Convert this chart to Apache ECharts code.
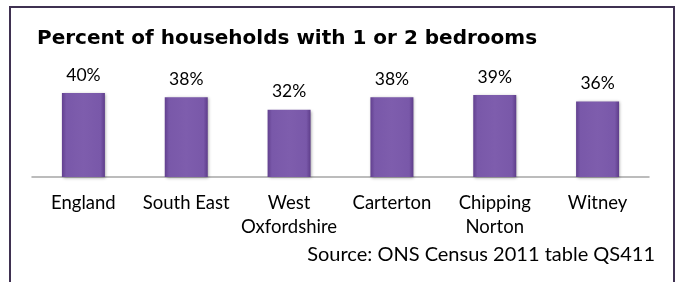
<!DOCTYPE html>
<html><head><meta charset="utf-8">
<script src="https://cdn.jsdelivr.net/npm/echarts@6/dist/echarts.min.js"></script>
<style>html,body{margin:0;padding:0;background:#fff}#c{width:677px;height:282px}</style>
</head><body><div id="c"></div>
<script>
var categories = ['England', 'South East', 'West\nOxfordshire', 'Carterton', 'Chipping\nNorton', 'Witney'];
var values = [40, 38, 32, 38, 39, 36];
var titleText = 'Percent of households with 1 or 2 bedrooms';
var sourceText = 'Source: ONS Census 2011 table QS411';

var chart = echarts.init(document.getElementById('c'), null, {renderer: 'canvas'});
chart.setOption({
  animation: false,
  backgroundColor: '#fff',
  grid: {left: 32, right: 28, top: 72, bottom: 105},
  graphic: [
    {type: 'rect', shape: {x: 10, y: 7, width: 664, height: 300},
     style: {fill: null, stroke: '#3F3151', lineWidth: 2}, z: 100},
    {type: 'text', left: 37, top: 29,
     style: {text: titleText, font: 'bold 20px "DejaVu Sans"', fill: '#000'}},
    {type: 'text', right: 22, top: 245,
     style: {text: sourceText, font: '20px Lato', fill: '#000'}}
  ],
  xAxis: {
    type: 'category', data: categories,
    axisLine: {lineStyle: {color: '#A6A6A6', width: 1.5}},
    axisTick: {length: 5, lineStyle: {color: '#A6A6A6'}},
    axisLabel: {interval: 0, color: '#000', fontFamily: 'Lato', fontSize: 18.5, lineHeight: 24, margin: 14}
  },
  yAxis: {type: 'value', min: 0, max: 50, show: false, splitLine: {show: false}},
  series: [{
    type: 'bar', data: values, barWidth: 43,
    itemStyle: {
      color: {type: 'linear', x: 0, y: 0, x2: 1, y2: 0, colorStops: [
        {offset: 0, color: '#62408F'}, {offset: 0.1, color: '#7958A9'},
        {offset: 0.5, color: '#7E5DAD'}, {offset: 0.9, color: '#7958A9'}, {offset: 1, color: '#5E3D8A'}]},
      shadowBlur: 3, shadowColor: 'rgba(0,0,0,0.35)', shadowOffsetX: 1, shadowOffsetY: 1
    },
    label: {show: true, position: 'top', distance: 9, formatter: '{c}%',
      color: '#000', fontFamily: 'Lato', fontSize: 17.5}
  }]
});
</script></body></html>
